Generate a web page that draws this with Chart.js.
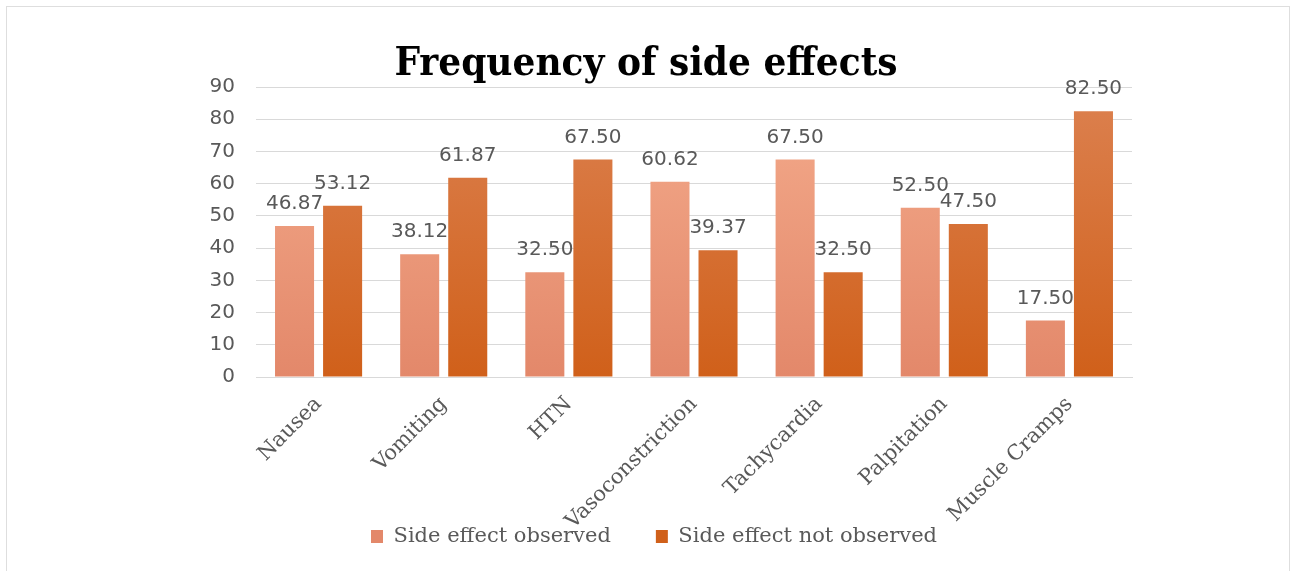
<!DOCTYPE html>
<html>
<head>
<meta charset="utf-8">
<script src="https://cdn.jsdelivr.net/npm/chart.js@4/dist/chart.umd.min.js"></script>
<style>
  html, body { margin: 0; padding: 0; background: #ffffff; }
  #wrap { width: 1292px; height: 571px; position: relative; }
</style>
</head>
<body>
<div id="wrap"><canvas id="chart" width="1292" height="571"></canvas></div>
<script>
// Side effects and the share of patients (%) in each group
const categories = ['Nausea', 'Vomiting', 'HTN', 'Vasoconstriction', 'Tachycardia', 'Palpitation', 'Muscle Cramps'];
const observed = [46.87, 38.12, 32.50, 60.62, 67.50, 52.50, 17.50];
const notObserved = [53.12, 61.87, 67.50, 39.37, 32.50, 47.50, 82.50];
const seriesNames = ['Side effect observed', 'Side effect not observed'];
const yTicks = [0, 10, 20, 30, 40, 50, 60, 70, 80, 90];

const GREY = '#595959';
const GRID = '#d9d9d9';

// vertical gradient over the plot area for each series
function barGradient(light, dark) {
  return function (ctx) {
    const area = ctx.chart.chartArea;
    if (!area) return light;
    const g = ctx.chart.ctx.createLinearGradient(0, area.top, 0, area.bottom);
    g.addColorStop(0, light);
    g.addColorStop(1, dark);
    return g;
  };
}

// thin frame around the whole figure
const framePlugin = {
  id: 'frame',
  beforeDraw(chart) {
    const c = chart.ctx;
    c.save();
    c.fillStyle = '#ffffff';
    c.fillRect(0, 0, chart.width, chart.height);
    c.strokeStyle = '#dedede';
    c.lineWidth = 1;
    c.strokeRect(6.5, 6.5, chart.width - 9, chart.height + 4);
    c.restore();
  }
};

// let the slanted category names run down past the axis box (they may
// cross the legend row) and nudge the legend row a little to the right
const layoutTweaks = {
  id: 'layoutTweaks',
  afterLayout(chart) {
    const x = chart.scales.x;
    x.bottom = chart.height;
    const lg = chart.legend;
    if (lg) {
      lg.left += 8;
      lg.right += 8;
    }
  }
};

// value printed above every bar
const valueLabels = {
  id: 'valueLabels',
  afterDatasetsDraw(chart) {
    const c = chart.ctx;
    c.save();
    c.font = '20px "DejaVu Sans"';
    c.fillStyle = GREY;
    c.textAlign = 'center';
    c.textBaseline = 'alphabetic';
    chart.data.datasets.forEach((ds, i) => {
      chart.getDatasetMeta(i).data.forEach((bar, j) => {
        c.fillText(ds.data[j].toFixed(2), bar.x, bar.y - 17);
      });
    });
    c.restore();
  }
};

new Chart(document.getElementById('chart'), {
  type: 'bar',
  data: {
    labels: categories,
    datasets: [
      {
        label: seriesNames[0],
        data: observed,
        backgroundColor: barGradient('#f4ab8c', '#e3886a'),
        categoryPercentage: 0.768,
        barPercentage: 0.8125
      },
      {
        label: seriesNames[1],
        data: notObserved,
        backgroundColor: barGradient('#dc8150', '#d0601a'),
        categoryPercentage: 0.768,
        barPercentage: 0.8125
      }
    ]
  },
  options: {
    responsive: false,
    animation: false,
    layout: { padding: { left: 12, right: 12, top: 0, bottom: 14 } },
    plugins: {
      title: {
        display: true,
        text: 'Frequency of side effects',
        color: '#000000',
        font: { family: '"DejaVu Serif Condensed", "Liberation Serif"', size: 40, weight: 'bold', lineHeight: 1 },
        padding: { top: 45, bottom: 2 }
      },
      legend: {
        position: 'bottom',
        labels: {
          color: GREY,
          font: { family: '"DejaVu Serif"', size: 21 },
          boxWidth: 12,
          boxHeight: 13,
          padding: 45
        }
      },
      tooltip: { enabled: false }
    },
    scales: {
      x: {
        grid: { display: false },
        border: { display: true, color: GRID },
        ticks: {
          color: GREY,
          font: { family: '"DejaVu Serif"', size: 21 },
          minRotation: 45,
          maxRotation: 45,
          autoSkip: false,
          padding: 7
        },
        afterFit(s) { s.height = 104; }
      },
      y: {
        min: 0,
        max: 90,
        afterBuildTicks(s) { s.ticks = yTicks.map(v => ({ value: v })); },
        grid: { color: GRID, drawTicks: false },
        border: { display: false },
        ticks: {
          color: GREY,
          font: { family: '"DejaVu Sans"', size: 20 },
          padding: 21
        },
        afterFit(s) { s.width = 244; }
      },
      yRight: {
        position: 'right',
        grid: { display: false },
        border: { display: false },
        ticks: { display: false },
        afterFit(s) { s.width = 148; }
      }
    }
  },
  plugins: [framePlugin, layoutTweaks, valueLabels]
});
</script>
</body>
</html>
